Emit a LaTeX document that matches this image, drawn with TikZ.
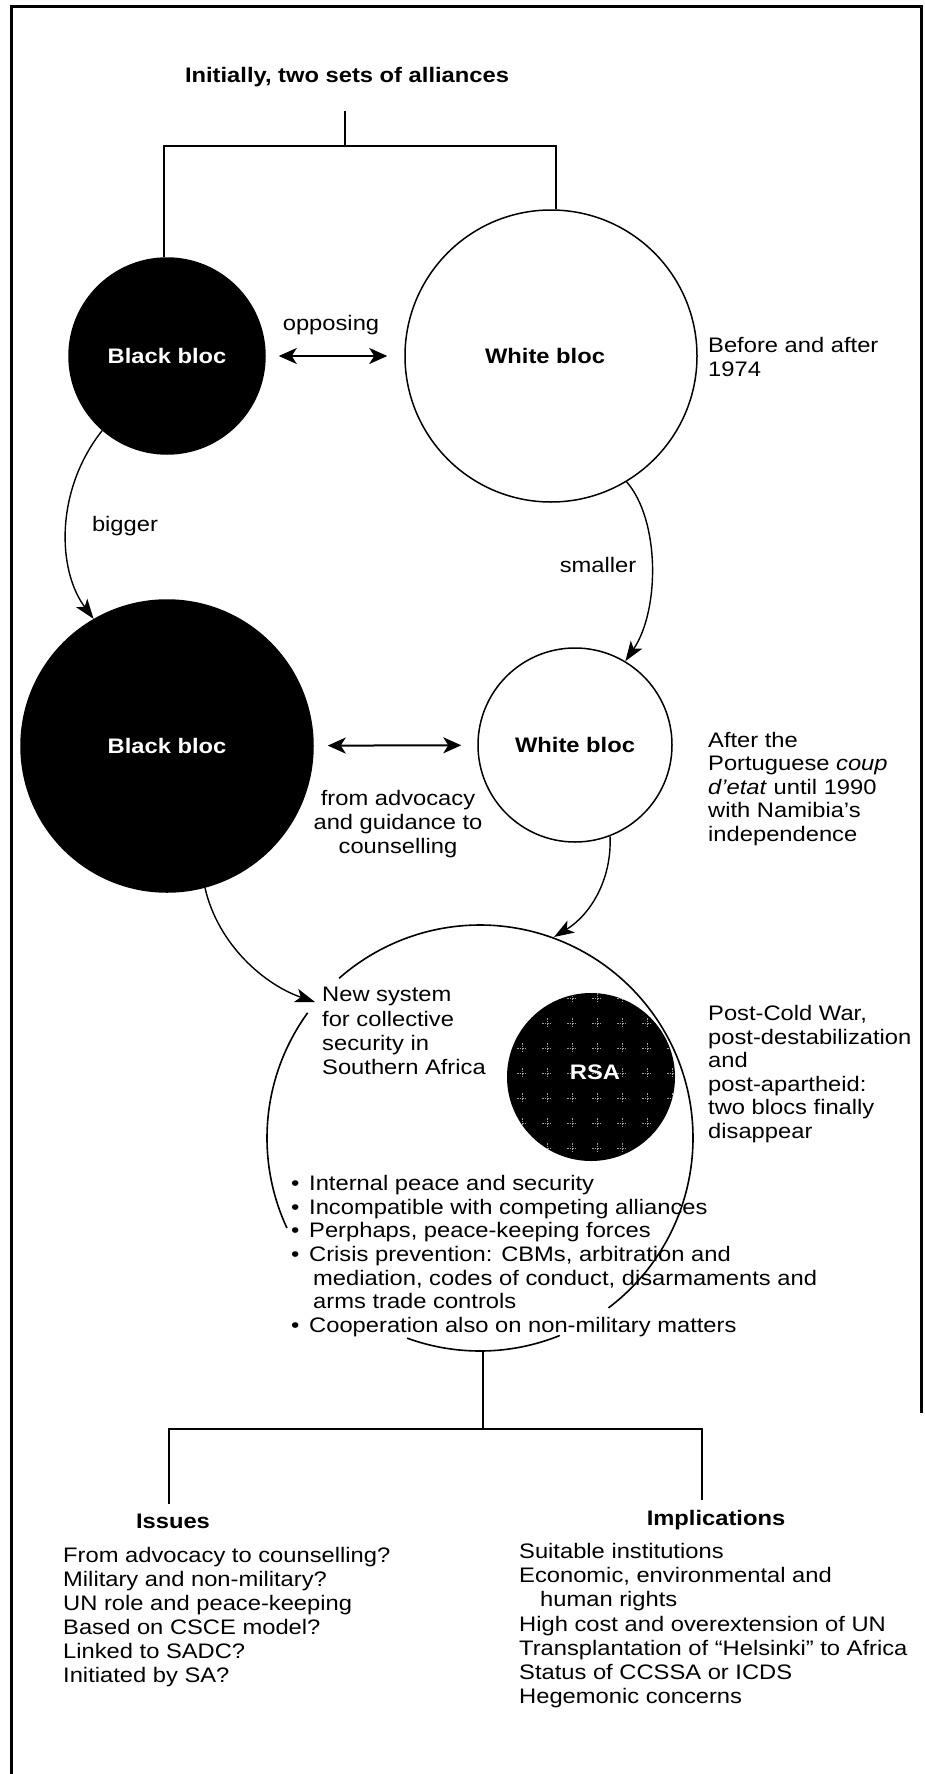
\documentclass[tikz,border=0pt]{standalone}
\usepackage{fontspec}
\setmainfont{Liberation Sans}[FakeStretch=1.13]
\usetikzlibrary{arrows.meta}
\newcommand{\blt}{\makebox[18pt][l]{•}}
\newcommand{\ind}{\hspace*{22pt}}
\begin{document}
\begin{tikzpicture}[x=1pt,y=-1pt,
  font=\fontsize{21}{24}\selectfont,
  bloc/.style={circle, inner sep=0pt, line width=1.5pt, draw=black, font=\fontsize{21}{24}\selectfont\bfseries},
  blackbloc/.style={bloc, fill=black, text=white, minimum size=#1},
  whitebloc/.style={bloc, fill=white, text=black, minimum size=#1},
  conn/.style={line width=1.4pt, -{Stealth[length=20pt,width=14pt,inset=5pt]}},
  dbl/.style={line width=2pt, {Stealth[length=18pt,width=16pt,inset=5pt]}-{Stealth[length=18pt,width=16pt,inset=5pt]}},
  branch/.style={line width=2pt},
  outline/.style={line width=1.6pt},
  txt/.style={inner sep=0pt, align=left, anchor=north west},
  lbl/.style={inner sep=0pt, anchor=base},
  head/.style={inner sep=0pt, anchor=base, font=\fontsize{21}{24}\selectfont\bfseries}
]
\useasboundingbox (0,0) rectangle (925,1774);
\fill[white] (0,0) rectangle (925,1774);
% frame
\draw[line width=3pt] (11,1774) -- (11,7) -- (921,7) -- (921,1413);

% title and top branch
\node[head] (title) at (347,83) {Initially, two sets of alliances};
\coordinate (t0) at (345,111);
\coordinate (tj) at (345,146);

% first row
\node[blackbloc=196pt] (bb1) at (167,356) {Black bloc};
\node[whitebloc=292pt] (wb1) at (551,356) {\hspace*{-12pt}White bloc};
\draw[branch] (t0) -- (tj);
\draw[branch] ([xshift=-3pt]bb1.north) |- (tj) -| ([xshift=5pt]wb1.north);
\draw[dbl, shorten <=13pt, shorten >=17pt] (bb1) -- (wb1);
\node[lbl] (opp) at (331,330) {opposing};
\node[txt] (era1) at (708,337) {Before and after\\1974};

% second row
\node[blackbloc=292pt] (bb2) at (167,746) {Black bloc};
\node[whitebloc=194pt] (wb2) at (575,745) {White bloc};
\draw[dbl, shorten <=14pt, shorten >=16pt] (bb2) -- (wb2);
\node[lbl] (big) at (125,531) {bigger};
\node[lbl] (small) at (598,572) {smaller};
\draw[conn] (bb1.229) .. controls (55,490) and (57,570) .. (bb2.120);
\draw[conn] (wb1.-59) .. controls (660,520) and (660,610) .. (wb2.59);
\node[txt, align=center, anchor=north] (adv) at (398,790) {from advocacy\\and guidance to\\counselling};
\node[txt, font=\fontsize{21}{23.4}\selectfont] (era2) at (708,732) {After the\\Portuguese \textit{coup}\\\textit{d’etat} until 1990\\with Namibia’s\\independence};

% third part: new system
\coordinate (bigc) at (480,1138);
\node[circle, inner sep=0pt, minimum size=168pt, fill=black] (rsa) at (591,1077) {};
\begin{scope}
  \clip (591,1077) circle (84);
  \foreach \i in {-4,...,4} {
    \foreach \j in {-4,...,4} {
      \pgfmathsetmacro{\px}{597+\i*25}
      \pgfmathsetmacro{\py}{1073+\j*25}
      \draw[black!38, line width=1pt, dash pattern=on 1.5pt off 1pt] (\px-5,\py) -- (\px+5,\py) (\px,\py-5) -- (\px,\py+5);
    }
  }
\end{scope}
\node[inner sep=0pt, text=white, font=\fontsize{21}{24}\selectfont\bfseries] (rsalbl) at (595,1072) {RSA};

\draw[outline] (bigc) ++(52.9:213) arc[start angle=52.9, end angle=-131.4, radius=213];
\draw[outline] (bigc) ++(-144:213) arc[start angle=-144, end angle=-205, radius=213];
\draw[outline] (bigc) ++(110:213) arc[start angle=110, end angle=68, radius=213];

\coordinate (nsarrow) at (315,1002);
\coordinate (toparr) at (554,937);
\draw[conn] (bb2.-75) .. controls (218,945) and (265,985) .. (nsarrow);
\draw[conn] (wb2.-69) .. controls (612,880) and (590,915) .. (toparr);

\node[txt, font=\fontsize{21}{24.4}\selectfont] (newsys) at (322,987) {New system\\for collective\\security in\\Southern Africa};
\node[txt, font=\fontsize{21}{23.6}\selectfont] (era3) at (708,1005) {Post-Cold War,\\post-destabilization\\and\\post-apartheid:\\two blocs finally\\disappear};

\node[txt, font=\fontsize{21}{23.7}\selectfont] (bullets) at (291,1175) {%
\blt Internal peace and security\\
\blt Incompatible with competing alliances\\
\blt Perphaps, peace-keeping forces\\
\blt Crisis prevention: CBMs, arbitration and\\
\ind mediation, codes of conduct, disarmaments and\\
\ind arms trade controls\\
\blt Cooperation also on non-military matters};

% bottom branch
\coordinate (botc) at (483,1350);
\coordinate (bj) at (483,1429);
\coordinate (isstop) at (169,1504);
\coordinate (imptop) at (702,1500);
\draw[branch] (botc) -- (bj);
\draw[branch] (isstop) |- (bj) -| (imptop);

\node[head] (issues) at (173,1528) {Issues};
\node[head] (impl) at (716,1525) {Implications};
\node[txt] (isslist) at (63,1547) {From advocacy to counselling?\\Military and non-military?\\UN role and peace-keeping\\Based on CSCE model?\\Linked to SADC?\\Initiated by SA?};
\node[txt, font=\fontsize{21}{24.2}\selectfont] (impllist) at (519,1543) {Suitable institutions\\Economic, environmental and\\\hspace*{21pt}human rights\\High cost and overextension of UN\\Transplantation of “Helsinki” to Africa\\Status of CCSSA or ICDS\\Hegemonic concerns};
\end{tikzpicture}
\end{document}
